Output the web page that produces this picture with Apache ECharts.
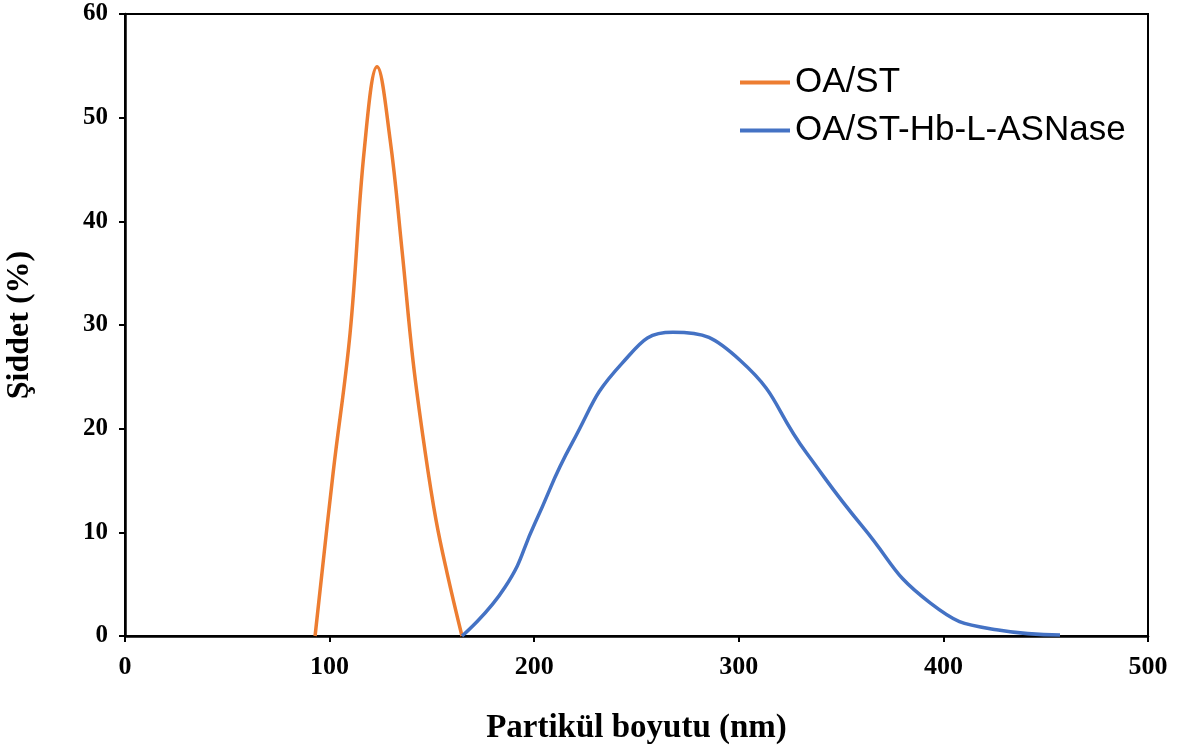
<!DOCTYPE html>
<html>
<head>
<meta charset="utf-8">
<script src="https://cdn.jsdelivr.net/npm/echarts@6/dist/echarts.min.js"></script>
<style>
  html, body { margin: 0; padding: 0; background: #fff; }
  #chart { width: 1204px; height: 753px; }
</style>
</head>
<body>
<div id="chart"></div>
<script>
// particle size distribution
var oaSize = [92.9, 101.7, 110, 117, 123.2, 129.5, 135.4, 140.8, 146.6, 152, 157.4, 164.7];
var oaValue = [0, 15.7, 29.2, 47, 54.9, 48, 37.2, 26.5, 17.9, 11.2, 6.1, 0];

var hbSize = [164.7, 185.7, 200.4, 218.5, 242.9, 267.8, 300.6, 333.3, 360.7, 393.5, 426, 457];
var hbValue = [0, 4.7, 10.9, 18.6, 26.3, 29.3, 26.6, 17.6, 10.5, 3.2, 0.6, 0.1];

var seriesNames = ['OA/ST', 'OA/ST-Hb-L-ASNase'];

function pairs(xs, ys) {
  var res = [];
  for (var i = 0; i < xs.length; i++) res.push([xs[i], ys[i]]);
  return res;
}

var chart = echarts.init(document.getElementById('chart'));
var serif = '"Liberation Serif", "Times New Roman", serif';

chart.setOption({
  animation: false,
  color: ['#ED7D31', '#4472C4'],
  grid: {
    left: 125, right: 56, top: 14, bottom: 117,
    outerBoundsMode: 'none', containLabel: false,
    show: true, borderColor: '#000', borderWidth: 2
  },
  legend: {
    orient: 'vertical',
    left: 735, top: 60,
    itemWidth: 50, itemHeight: 4, itemGap: 13,
    icon: 'rect',
    data: seriesNames,
    textStyle: { fontFamily: '"Liberation Sans", Arial, sans-serif', fontSize: 35, color: '#000' }
  },
  xAxis: {
    type: 'value', min: 0, max: 500, interval: 100,
    name: 'Partikül boyutu (nm)', nameLocation: 'middle', nameGap: 76,
    nameTextStyle: { fontFamily: serif, fontWeight: 'bold', fontSize: 33, color: '#000' },
    axisLine: { lineStyle: { color: '#000', width: 2.5 } },
    axisTick: { show: true, length: 6, lineStyle: { color: '#000', width: 2 } },
    axisLabel: { fontFamily: serif, fontWeight: 'bold', fontSize: 26, color: '#000', margin: 18 },
    splitLine: { show: false }
  },
  yAxis: {
    type: 'value', min: 0, max: 60, interval: 10,
    name: 'Şiddet (%)', nameLocation: 'middle', nameGap: 89,
    nameTextStyle: { fontFamily: serif, fontWeight: 'bold', fontSize: 32, color: '#000' },
    axisLine: { show: true, lineStyle: { color: '#000', width: 2.5 } },
    axisTick: { show: true, length: 6, lineStyle: { color: '#000', width: 2 } },
    axisLabel: { fontFamily: serif, fontWeight: 'bold', fontSize: 25, color: '#000', margin: 17 },
    splitLine: { show: false }
  },
  series: [
    {
      name: seriesNames[0], type: 'line', smooth: 0.4, showSymbol: false,
      lineStyle: { width: 3.5 },
      data: pairs(oaSize, oaValue)
    },
    {
      name: seriesNames[1], type: 'line', smooth: 0.5, showSymbol: false,
      lineStyle: { width: 3.5 },
      data: pairs(hbSize, hbValue)
    }
  ]
});
</script>
</body>
</html>
